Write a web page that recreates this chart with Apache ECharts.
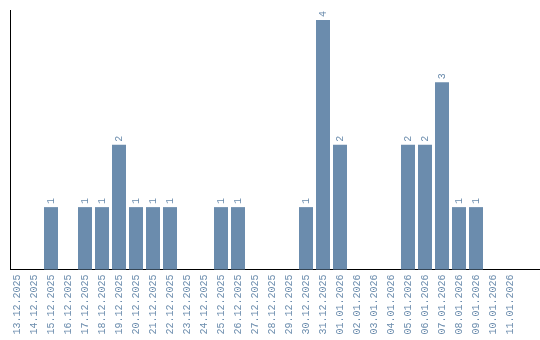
<!DOCTYPE html>
<html>
<head>
<meta charset="utf-8">
<script src="https://cdn.jsdelivr.net/npm/echarts@6/dist/echarts.min.js"></script>
<style>html,body{margin:0;padding:0;background:#fff}#c{width:540px;height:340px}</style>
</head>
<body>
<div id="c"></div>
<script>
const categories = ["13.12.2025","14.12.2025","15.12.2025","16.12.2025","17.12.2025","18.12.2025","19.12.2025","20.12.2025","21.12.2025","22.12.2025","23.12.2025","24.12.2025","25.12.2025","26.12.2025","27.12.2025","28.12.2025","29.12.2025","30.12.2025","31.12.2025","01.01.2026","02.01.2026","03.01.2026","04.01.2026","05.01.2026","06.01.2026","07.01.2026","08.01.2026","09.01.2026","10.01.2026","11.01.2026"];
const values = [0,0,1,0,1,1,2,1,1,1,0,0,1,1,0,0,0,1,4,2,0,0,0,2,2,3,1,1,0,0];
const barColor = '#6b8cad';
const chart = echarts.init(document.getElementById('c'), null, {renderer:'canvas'});
chart.setOption({
  animation: false,
  grid: {left: 8.5, top: 10, width: 510, height: 259.5, containLabel: false},
  xAxis: {
    type: 'category', data: categories,
    axisLine: {show: false}, axisTick: {show: false},
    axisLabel: {rotate: 90, margin: 5, interval: 0, color: barColor, fontFamily: 'Liberation Mono', fontSize: 10}
  },
  yAxis: {
    type: 'value', min: 0, max: 4.16,
    axisLine: {show: false}, axisTick: {show: false}, axisLabel: {show: false}, splitLine: {show: false}
  },
  series: [{
    type: 'bar', data: values, barWidth: 14,
    itemStyle: {color: barColor},
    label: {show: true, position: 'top', rotate: 90, align: 'left', verticalAlign: 'middle', distance: 3,
      color: barColor, fontFamily: 'Liberation Mono', fontSize: 10,
      formatter: p => p.value ? String(p.value) : ''}
  }],
  graphic: [
    {type: 'line', shape: {x1: 10.5, y1: 10, x2: 10.5, y2: 270}, style: {stroke: '#000', lineWidth: 1}, silent: true},
    {type: 'line', shape: {x1: 10, y1: 269.5, x2: 540, y2: 269.5}, style: {stroke: '#000', lineWidth: 1}, silent: true}
  ]
});
</script>
</body>
</html>
